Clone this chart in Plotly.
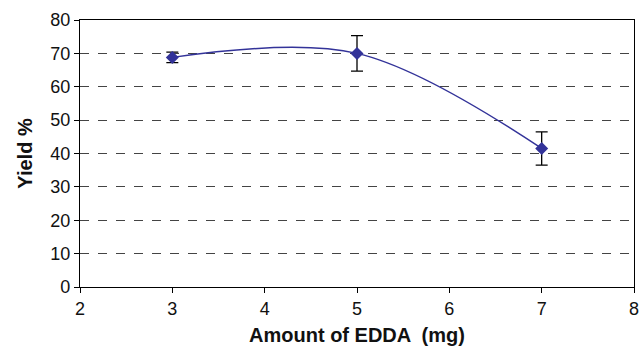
import plotly.graph_objects as go

edda_mg = [3, 5, 7]
yield_pct = [68.8, 70.0, 41.5]
yield_err = [1.6, 5.3, 5.0]

color = "#333399"
font = "Liberation Sans, Arial, sans-serif"

fig = go.Figure()
fig.add_trace(go.Scatter(
    x=edda_mg, y=yield_pct,
    mode="lines+markers",
    line=dict(shape="spline", smoothing=1.0, color=color, width=1.5),
    marker=dict(symbol="diamond", size=10, color=color),
    error_y=dict(type="data", array=yield_err, visible=True, color="black", thickness=1.3, width=6),
    showlegend=False,
))

fig.update_layout(
    width=640, height=347,
    margin=dict(l=80, r=6, t=20, b=60, autoexpand=False),
    paper_bgcolor="white", plot_bgcolor="white",
    font=dict(family=font, size=18, color="#111111"),
    xaxis=dict(
        range=[2, 8], dtick=1, showgrid=False, zeroline=False,
        showline=True, linecolor="black", linewidth=1.3, mirror=True,
        ticks="outside", ticklen=5, tickcolor="black",
        title=dict(text="<b>Amount of EDDA  (mg)</b>", font=dict(size=20), standoff=10),
    ),
    yaxis=dict(
        range=[0, 80], dtick=10, showgrid=True, gridcolor="#444444", griddash="dash", gridwidth=1,
        zeroline=False, showline=True, linecolor="black", linewidth=1.3, mirror=True,
        ticks="outside", ticklen=5, tickcolor="black",
        title=dict(text="<b>Yield %</b>", font=dict(size=20), standoff=12),
    ),
)

fig.write_html("out.html")
